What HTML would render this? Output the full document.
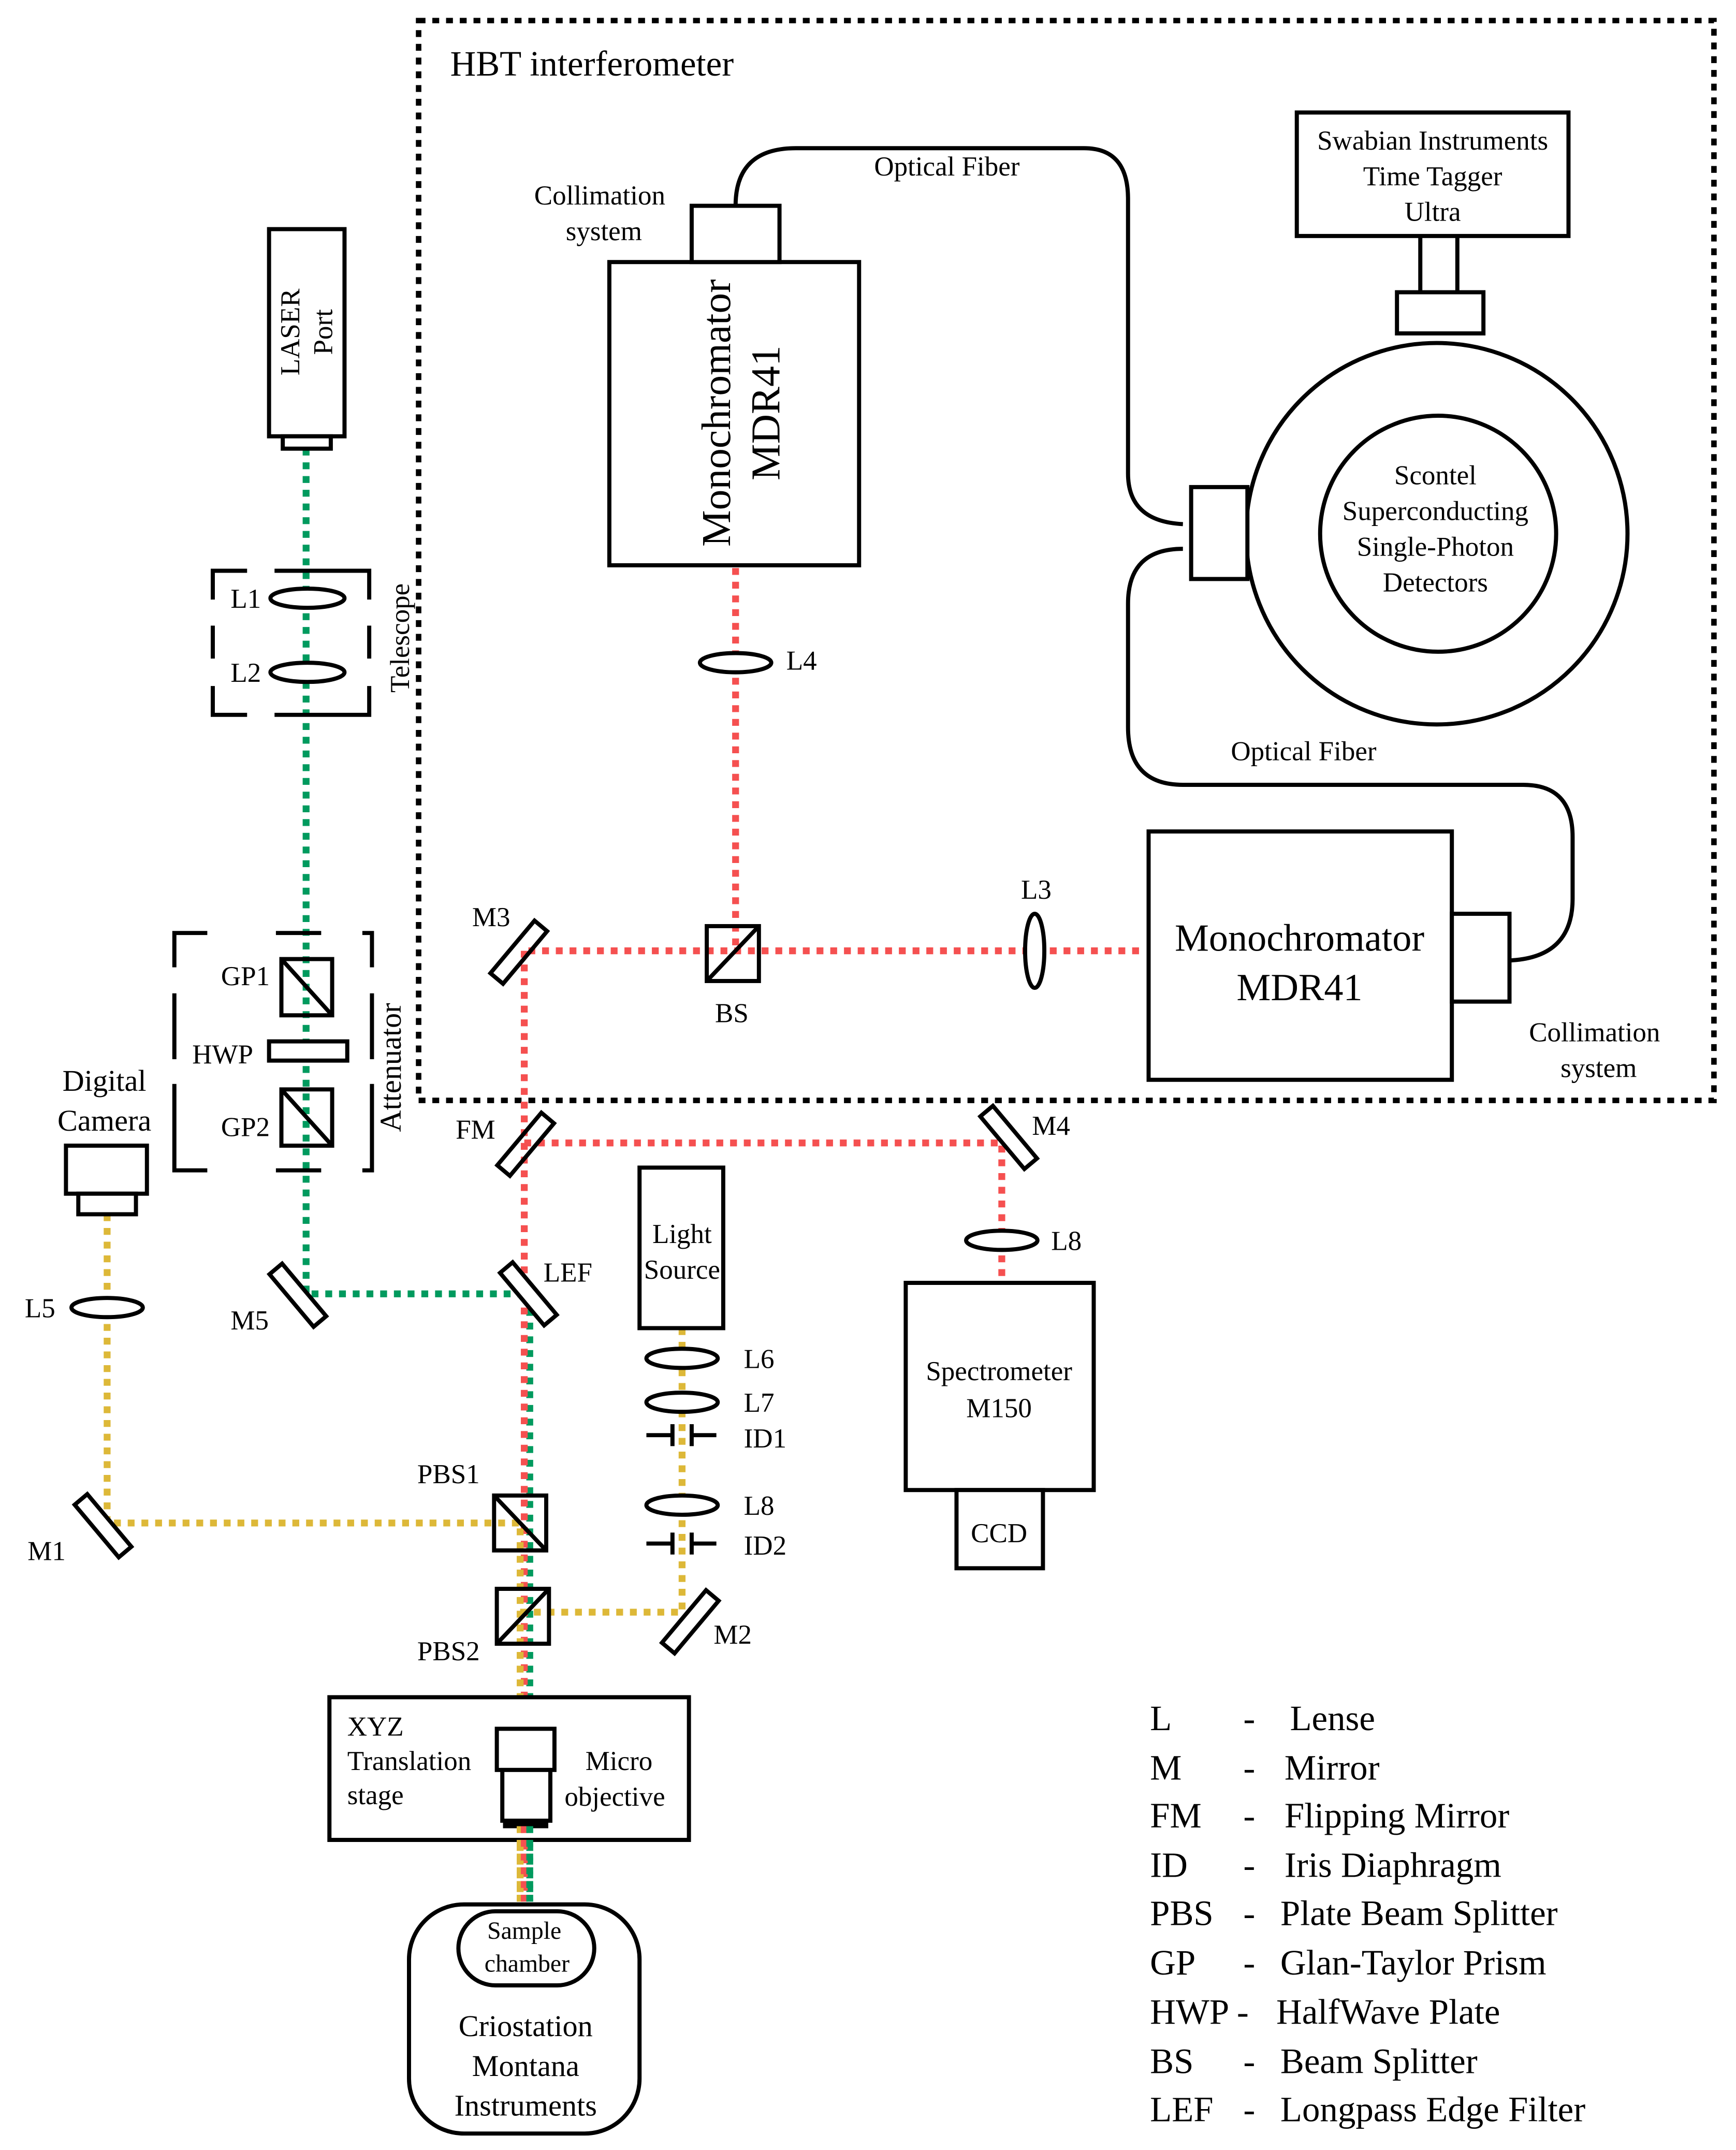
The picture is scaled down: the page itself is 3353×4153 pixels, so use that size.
<!DOCTYPE html>
<html><head><meta charset="utf-8"><style>
html,body{margin:0;padding:0;background:#fff}
svg{display:block}
text{font-family:"Liberation Serif","Times New Roman","DejaVu Serif",serif;fill:#000}
</style></head><body>
<svg width="3353" height="4153" viewBox="0 0 1265 1567" xmlns="http://www.w3.org/2000/svg" font-family="Liberation Serif, Times New Roman, DejaVu Serif, serif">
<rect width="1265" height="1567" fill="#fff"/>
<g fill="none" stroke="#000" stroke-width="3">
<rect x="305" y="15" width="944" height="787" stroke-width="4" stroke-dasharray="5 5"/>
</g>
<text x="328" y="55" font-size="26">HBT interferometer</text>

<g fill="none" stroke-width="5" stroke-dasharray="5 5">
<path d="M223 327 V943 H386 V1385" stroke="#009A5E"/>
<path d="M536 414 V693 M385 693 H832 M382 693 V1385 M382 833 H730 V930" stroke="#F55050"/>
<path d="M78 885 V1110 H379 V1385 M497 968 V1175 H379" stroke="#DDB838"/>
</g>

<g fill="none" stroke="#000" stroke-width="3">
<rect x="196" y="167" width="55" height="151" fill="#fff"/>
<rect x="206" y="318" width="35" height="9" fill="#fff"/>
<path d="M155 437 V416 H180 M200 416 H245 M244 416 H269 V437 M155 456 V480 M269 456 V480 M155 500 V521 H180 M200 521 H245 M244 521 H269 V500"/>
<ellipse cx="224" cy="436" rx="27" ry="7" fill="#fff"/>
<ellipse cx="224" cy="490" rx="27" ry="7" fill="#fff"/>
<path d="M127 705 V680 H151 M201 680 H234 M264 680 H271 V705 M127 724 V772 M271 724 V772 M127 790 V853 H151 M201 853 H234 M264 853 H271 V790"/>
<rect x="205" y="699" width="37" height="41" fill="none"/>
<line x1="205" y1="699" x2="242" y2="740"/>
<rect x="196" y="759" width="57" height="14" fill="#fff"/>
<rect x="205" y="794" width="37" height="41"/>
<line x1="205" y1="794" x2="242" y2="835"/>
<rect x="48" y="835" width="59" height="35" fill="#fff"/>
<rect x="57" y="870" width="42" height="15" fill="#fff"/>
<ellipse cx="78" cy="953" rx="26" ry="7" fill="#fff"/>
<rect x="-25" y="-6" width="50" height="12" transform="translate(75 1112) rotate(50)" fill="#fff"/>
<rect x="-25" y="-6" width="50" height="12" transform="translate(217 944) rotate(50)" fill="#fff"/>
<rect x="-25" y="-6" width="50" height="12" transform="translate(385 943) rotate(50)" fill="#fff"/>
<rect x="-25" y="-6" width="50" height="12" transform="translate(378 694) rotate(-50)" fill="none"/>
<rect x="-25" y="-6" width="50" height="12" transform="translate(383 834) rotate(-50)" fill="none"/>
<rect x="-25" y="-6" width="50" height="12" transform="translate(735 829) rotate(50)" fill="#fff"/>
<rect x="-25" y="-6" width="50" height="12" transform="translate(503 1182) rotate(-50)" fill="#fff"/>
<rect x="360" y="1090" width="38" height="40"/>
<line x1="360" y1="1090" x2="398" y2="1130"/>
<rect x="362" y="1158" width="38" height="40"/>
<line x1="362" y1="1198" x2="400" y2="1158"/>
<rect x="466" y="851" width="61" height="117" fill="#fff"/>
<ellipse cx="497" cy="990" rx="26" ry="7" fill="#fff"/>
<ellipse cx="497" cy="1022" rx="26" ry="7" fill="#fff"/>
<path d="M471 1046 H490 M490 1038 V1054 M504 1038 V1054 M504 1046 H522"/>
<ellipse cx="497" cy="1097" rx="26" ry="7" fill="#fff"/>
<path d="M471 1125 H490 M490 1117 V1133 M504 1117 V1133 M504 1125 H522"/>
<rect x="515" y="675" width="38" height="40" fill="none"/>
<line x1="515" y1="715" x2="553" y2="675"/>
<ellipse cx="536" cy="483" rx="26" ry="7" fill="#fff"/>
<ellipse cx="754" cy="693" rx="7" ry="27" fill="#fff"/>
<ellipse cx="730" cy="904" rx="26" ry="7" fill="#fff"/>
<rect x="444" y="191" width="182" height="221" fill="#fff"/>
<rect x="504" y="150" width="64" height="41" fill="#fff"/>
<rect x="837" y="606" width="221" height="181" fill="#fff"/>
<rect x="1058" y="666" width="42" height="64" fill="#fff"/>
<path d="M536 150 Q536 108 580 108 L790 108 Q822 108 822 145 L822 345 Q822 380 862 382"/>
<path d="M862 400 Q822 400 822 440 L822 530 Q822 572 862 572 L1110 572 Q1146 572 1146 610 L1146 655 Q1146 698 1100 700"/>
<rect x="945" y="82" width="198" height="90" fill="#fff"/>
<path d="M1035 172 V213 M1062 172 V213"/>
<rect x="1018" y="213" width="63" height="30" fill="#fff"/>
<circle cx="1047" cy="389" r="139" fill="#fff"/>
<circle cx="1048" cy="389" r="86"/>
<rect x="868" y="355" width="41" height="67" fill="#fff"/>
<rect x="660" y="935" width="137" height="151" fill="#fff"/>
<rect x="697" y="1086" width="63" height="57" fill="#fff"/>
<rect x="240" y="1237" width="262" height="104" fill="#fff"/>
<rect x="362" y="1260" width="42" height="30" fill="#fff"/>
<rect x="366" y="1290" width="35" height="37" fill="#fff"/>
<rect x="368" y="1327" width="30" height="4" fill="#000"/>
<rect x="298" y="1388" width="168" height="167" rx="40" fill="#fff"/>
<rect x="334" y="1393" width="99" height="54" rx="27" fill="#fff"/>
</g>
<g fill="none" stroke-width="5" stroke-dasharray="5 5">
<path d="M379 1331 V1390" stroke="#DDB838"/>
<path d="M382 1331 V1390" stroke="#F55050"/>
<path d="M386 1331 V1390" stroke="#009A5E"/>
</g>

<g font-size="20">
<text transform="translate(218 242) rotate(-90)" text-anchor="middle">LASER</text>
<text transform="translate(242 242) rotate(-90)" text-anchor="middle">Port</text>
<text x="168" y="443">L1</text>
<text x="168" y="497">L2</text>
<text transform="translate(298 465) rotate(-90)" text-anchor="middle">Telescope</text>
<text x="161" y="718">GP1</text>
<text x="140" y="775">HWP</text>
<text x="161" y="828">GP2</text>
<text transform="translate(292 778) rotate(-90)" text-anchor="middle" font-size="22">Attenuator</text>
<text x="76" y="795" text-anchor="middle" font-size="22">Digital</text>
<text x="76" y="824" text-anchor="middle" font-size="22">Camera</text>
<text x="18" y="960">L5</text>
<text x="168" y="969">M5</text>
<text x="20" y="1137">M1</text>
<text x="396" y="934">LEF</text>
<text x="332" y="830">FM</text>
<text x="344" y="675">M3</text>
<text x="521" y="745">BS</text>
<text x="573" y="488">L4</text>
<text x="744" y="655">L3</text>
<text x="752" y="827">M4</text>
<text x="766" y="911">L8</text>
<text x="304" y="1081">PBS1</text>
<text x="304" y="1210">PBS2</text>
<text x="520" y="1198">M2</text>
<text x="497" y="906" text-anchor="middle">Light</text>
<text x="497" y="932" text-anchor="middle">Source</text>
<text x="542" y="997">L6</text>
<text x="542" y="1029">L7</text>
<text x="542" y="1055">ID1</text>
<text x="542" y="1104">L8</text>
<text x="542" y="1133">ID2</text>
<text x="728" y="1006" text-anchor="middle">Spectrometer</text>
<text x="728" y="1033" text-anchor="middle">M150</text>
<text x="728" y="1124" text-anchor="middle">CCD</text>
<text x="253" y="1265">XYZ</text>
<text x="253" y="1290">Translation</text>
<text x="253" y="1315">stage</text>
<text x="451" y="1290" text-anchor="middle">Micro</text>
<text x="448" y="1316" text-anchor="middle">objective</text>
<text x="382" y="1413" text-anchor="middle" font-size="18">Sample</text>
<text x="384" y="1437" text-anchor="middle" font-size="18">chamber</text>
<text x="383" y="1484" text-anchor="middle" font-size="22">Criostation</text>
<text x="383" y="1513" text-anchor="middle" font-size="22">Montana</text>
<text x="383" y="1542" text-anchor="middle" font-size="22">Instruments</text>
<text x="437" y="149" text-anchor="middle">Collimation</text>
<text x="440" y="175" text-anchor="middle">system</text>
<text x="690" y="128" text-anchor="middle">Optical Fiber</text>
<text x="950" y="554" text-anchor="middle">Optical Fiber</text>
<text x="1162" y="759" text-anchor="middle">Collimation</text>
<text x="1165" y="785" text-anchor="middle">system</text>
<text x="1044" y="109" text-anchor="middle">Swabian Instruments</text>
<text x="1044" y="135" text-anchor="middle">Time Tagger</text>
<text x="1044" y="161" text-anchor="middle">Ultra</text>
<text x="1046" y="353" text-anchor="middle">Scontel</text>
<text x="1046" y="379" text-anchor="middle">Superconducting</text>
<text x="1046" y="405" text-anchor="middle">Single-Photon</text>
<text x="1046" y="431" text-anchor="middle">Detectors</text>
</g>
<text transform="translate(532 301) rotate(-90)" text-anchor="middle" font-size="30">Monochromator</text>
<text transform="translate(568 301) rotate(-90)" text-anchor="middle" font-size="30">MDR41</text>
<text x="947" y="693" text-anchor="middle" font-size="28">Monochromator</text>
<text x="947" y="729" text-anchor="middle" font-size="28">MDR41</text>
<g font-size="26">
<text x="838" y="1261">L</text><text x="906" y="1261">-</text><text x="940" y="1261">Lense</text>
<text x="838" y="1297">M</text><text x="906" y="1297">-</text><text x="936" y="1297">Mirror</text>
<text x="838" y="1332">FM</text><text x="906" y="1332">-</text><text x="936" y="1332">Flipping Mirror</text>
<text x="838" y="1368">ID</text><text x="906" y="1368">-</text><text x="936" y="1368">Iris Diaphragm</text>
<text x="838" y="1403">PBS</text><text x="906" y="1403">-</text><text x="933" y="1403">Plate Beam Splitter</text>
<text x="838" y="1439">GP</text><text x="906" y="1439">-</text><text x="933" y="1439">Glan-Taylor Prism</text>
<text x="838" y="1475">HWP -</text><text x="930" y="1475">HalfWave Plate</text>
<text x="838" y="1511">BS</text><text x="906" y="1511">-</text><text x="933" y="1511">Beam Splitter</text>
<text x="838" y="1546">LEF</text><text x="906" y="1546">-</text><text x="933" y="1546">Longpass Edge Filter</text>
</g>
</svg>
</body></html>
